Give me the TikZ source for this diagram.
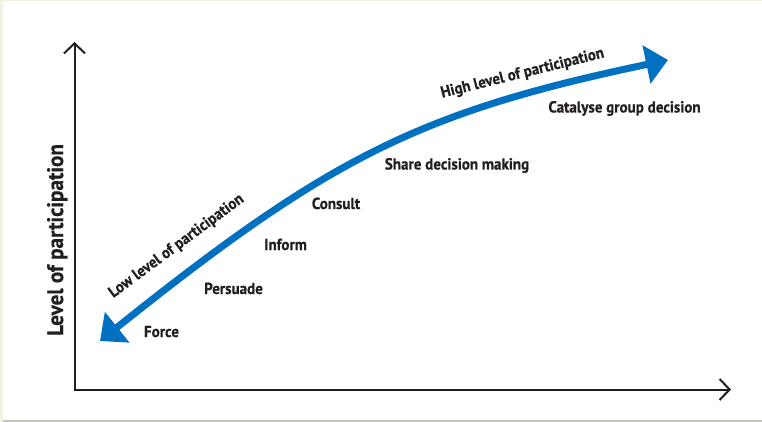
\documentclass[tikz,border=0pt]{standalone}
\usepackage{fontspec}
\setmainfont{PT Sans}[FakeStretch=0.94, BoldFeatures={FakeBold=0.5}]
\usetikzlibrary{arrows.meta}
\definecolor{partblue}{RGB}{0,112,192}
\definecolor{axisgray}{RGB}{35,31,32}
\definecolor{framegreen}{RGB}{238,243,228}
\definecolor{framegray}{RGB}{196,198,190}
\tikzset{
	stage/.style={font=\bfseries\fontsize{16}{18}\selectfont, text=axisgray, inner sep=0pt, anchor=base},
	axislabel/.style={font=\bfseries\fontsize{22.5}{24}\selectfont, text=axisgray, inner sep=0pt, anchor=base, rotate=90},
	axis/.style={line width=2pt, draw=axisgray, {Straight Barb[length=10pt,width=21pt]}-{Straight Barb[length=10pt,width=21pt]}},
	trend/.style={line width=7pt, draw=partblue, {Triangle[length=22pt,width=38pt]}-{Triangle[length=22pt,width=38pt]}},
}

\begin{document}
\begin{tikzpicture}[x=1pt,y=-1pt]
	%%%%% START %%%%%
	\useasboundingbox (0,0) rectangle (762,422);
	\fill[framegreen] (0,0) rectangle (762,422);
	\fill[white] (3,1.5) rectangle (762,419.5);
	\fill[framegray] (3,419.5) rectangle (762,422);

	% axes
	\coordinate (origin) at (74.5,389.5);
	\coordinate (ytop) at (74.5,42);
	\coordinate (xend) at (731,389.5);
	\draw[axis] (ytop) -- (origin) -- (xend);
	\node[axislabel] (ylabel) at (63,240) {Level of participation};

	% participation curve
	\coordinate (low) at (100,341);
	\coordinate (high) at (668,60);
	\draw[trend] (low) .. controls (330,157) and (420,112) .. (high);

	\node[stage, rotate=36.5] (lowlabel) at (179,249.5) {Low level of participation};
	\node[stage, rotate=14] (highlabel) at (523.5,77.5) {High level of participation};

	% stages
	\node[stage] (force) at (161.5,337) {Force};
	\node[stage] (persuade) at (233.5,294) {Persuade};
	\node[stage] (inform) at (285.5,250) {Inform};
	\node[stage] (consult) at (336,209) {Consult};
	\node[stage] (share) at (457,169.5) {Share decision making};
	\node[stage] (catalyse) at (624.5,112.5) {Catalyse group decision};
	%%%%% END %%%%%
\end{tikzpicture}
\end{document}
